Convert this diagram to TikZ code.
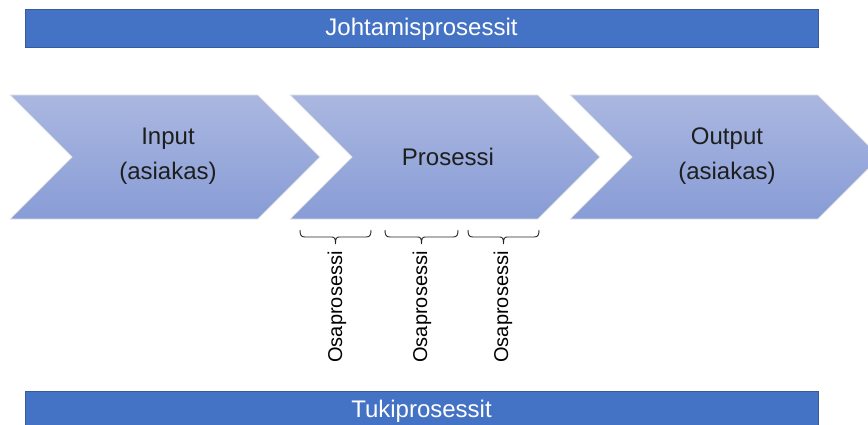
\documentclass[tikz,border=0pt]{standalone}
\usepackage{fontspec}
\setmainfont{Liberation Sans}
\definecolor{barblue}{RGB}{68,114,196}
\definecolor{chevtop}{RGB}{170,183,224}
\definecolor{chevbot}{RGB}{136,156,214}
\definecolor{textgray}{RGB}{30,30,30}
\tikzset{
  bar/.style={fill=barblue, draw=barblue!80!black, line width=0.6pt},
  bartext/.style={text=white, font=\fontsize{24}{27}\selectfont},
  chevron/.style={top color=chevtop, bottom color=chevbot, draw=white!82!gray, line width=0.8pt},
  chevtext/.style={text=textgray, font=\fontsize{24}{35}\selectfont, align=center},
  bracket/.style={draw=black!85, line width=0.9pt},
  subtext/.style={text=black, font=\fontsize{20}{22}\selectfont, rotate=90},
  pics/sbrace/.style={code={
    \draw[bracket] (0,0) .. controls (0,5) and (1,7) .. (5,7)
      -- ({#1/2-4},7) .. controls ({#1/2-1},7) and ({#1/2},8) .. ({#1/2},14)
      .. controls ({#1/2},8) and ({#1/2+1},7) .. ({#1/2+4},7)
      -- ({#1-5},7) .. controls ({#1-1},7) and (#1,5) .. (#1,0);
  }}
}
\begin{document}
\begin{tikzpicture}[x=1pt,y=-1pt]
  \useasboundingbox (0,0) rectangle (868,425);

  % management and support bars
  \fill[bar] (25,9) rectangle (818,47);
  \node[bartext] (mgmt) at (421.5,29) {Johtamisprosessit};
  \fill[bar] (25,391) rectangle (818,430);
  \node[bartext] (support) at (421.5,411) {Tukiprosessit};

  % process chevrons
  \path[chevron] (10,95) -- (258,95) -- (320,157) -- (258,219) -- (10,219) -- (72,157) -- cycle;
  \path[chevron] (290,95) -- (538,95) -- (600,157) -- (538,219) -- (290,219) -- (352,157) -- cycle;
  \path[chevron] (570,95) -- (818,95) -- (880,157) -- (818,219) -- (570,219) -- (632,157) -- cycle;

  \node[chevtext] (input) at (168,156) {Input\\(asiakas)};
  \node[chevtext] (process) at (448,157) {Prosessi};
  \node[chevtext] (output) at (727,156) {Output\\(asiakas)};

  % sub-process brackets
  \pic at (300,230) {sbrace=71};
  \pic at (385,230) {sbrace=73};
  \pic at (468,230) {sbrace=71};

  \node[subtext] (sub1) at (337,307) {Osaprosessi};
  \node[subtext] (sub2) at (422,307) {Osaprosessi};
  \node[subtext] (sub3) at (503,307) {Osaprosessi};
\end{tikzpicture}
\end{document}
